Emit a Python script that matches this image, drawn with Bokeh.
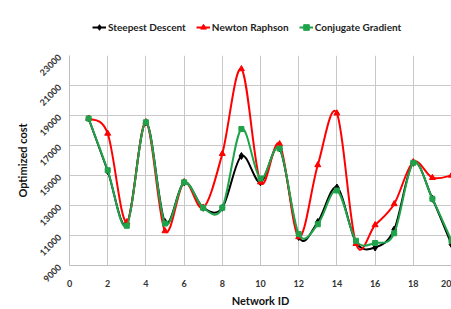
from bokeh.plotting import figure
from bokeh.layouts import column
from bokeh.models import Legend, LegendItem, FixedTicker, Range1d, ColumnDataSource
from bokeh.embed import file_html
from bokeh.resources import INLINE
import math

network_id = list(range(1, 21))
steepest = [18800, 15300, 11750, 18550, 11900, 14550, 12850, 12850, 16300, 14550,
            16800, 10900, 11900, 14200, 10550, 10200, 11400, 15850, 13450, 10400]
newton = [18800, 17800, 11900, 18550, 11300, 14550, 12850, 16450, 22100, 14550,
          17100, 10900, 15700, 19150, 10450, 11700, 13100, 15900, 14850, 15000]
conjugate = [18800, 15350, 11650, 18550, 11800, 14550, 12850, 12850, 18100, 14800,
             16800, 11100, 11750, 14000, 10650, 10500, 11150, 15850, 13450, 10650]

x_ticks = list(range(0, 21, 2))
y_ticks = list(range(9000, 23001, 2000))

FONT = "Lato"

# legend strip on top
lf = figure(width=451, height=44, output_backend="svg", toolbar_location=None,
            x_range=Range1d(0, 1), y_range=Range1d(0, 1),
            min_border_left=0, min_border_right=0, min_border_top=0, min_border_bottom=0)
lf.axis.visible = False
lf.grid.visible = False
lf.outline_line_color = None

p = figure(width=451, height=265, output_backend="svg", toolbar_location=None,
           x_range=Range1d(0, 20), y_range=Range1d(9000, 23000),
           min_border_left=69, min_border_right=0, min_border_top=11, min_border_bottom=42)
p.outline_line_color = None
p.background_fill_color = "white"
p.border_fill_color = "white"

for ax in (p.xaxis[0], p.yaxis[0]):
    ax.axis_line_color = "#bfbfbf"
    ax.major_tick_line_color = None
    ax.minor_tick_line_color = None
    ax.major_label_text_font = FONT
    ax.major_label_text_font_style = "bold"
    ax.major_label_text_font_size = "9px"
    ax.major_label_text_color = "#333333"
    ax.axis_label_text_font = FONT
    ax.axis_label_text_font_style = "bold"
    ax.axis_label_text_font_size = "11px"
    ax.axis_label_text_color = "#111111"

p.xaxis.ticker = FixedTicker(ticks=x_ticks)
p.yaxis.ticker = FixedTicker(ticks=y_ticks)
p.xaxis.axis_label = "Network ID"
p.yaxis.axis_label = "Optimized cost"
p.yaxis.major_label_orientation = math.pi / 4
p.xaxis.major_label_standoff = 8
p.yaxis.major_label_standoff = 4
p.xaxis.axis_label_standoff = 4
p.yaxis.axis_label_standoff = 4

p.xgrid.ticker = FixedTicker(ticks=x_ticks)
p.ygrid.ticker = FixedTicker(ticks=y_ticks)
p.xgrid.grid_line_color = "#c8c8c8"
p.ygrid.grid_line_color = "#c8c8c8"


def smooth(xs, ys, t=1.0 / 6):
    n = len(xs)
    d = dict(x0=[], y0=[], x1=[], y1=[], cx0=[], cy0=[], cx1=[], cy1=[])
    for i in range(n - 1):
        a = max(i - 1, 0)
        b = min(i + 2, n - 1)
        d["x0"].append(xs[i]); d["y0"].append(ys[i])
        d["x1"].append(xs[i + 1]); d["y1"].append(ys[i + 1])
        d["cx0"].append(xs[i] + (xs[i + 1] - xs[a]) * t)
        d["cy0"].append(ys[i] + (ys[i + 1] - ys[a]) * t)
        d["cx1"].append(xs[i + 1] - (xs[b] - xs[i]) * t)
        d["cy1"].append(ys[i + 1] - (ys[b] - ys[i]) * t)
    return ColumnDataSource(d)


series = [
    ("Steepest Descent", steepest, "#000000", "diamond", 7),
    ("Newton Raphson", newton, "#ff0000", "triangle", 6),
    ("Conjugate Gradient", conjugate, "#1fa34a", "square", 5),
]

items = []
for name, ys, color, marker, size in series:
    p.bezier(x0="x0", y0="y0", x1="x1", y1="y1", cx0="cx0", cy0="cy0", cx1="cx1", cy1="cy1",
             source=smooth(network_id, ys), line_color=color, line_width=2)
    p.scatter(network_id, ys, marker=marker, size=size, color=color)
    # legend proxies (hidden) in the legend strip
    ln = lf.line(network_id, ys, line_color=color, line_width=2, visible=False)
    sc = lf.scatter(network_id, ys, marker=marker, size=size, color=color, visible=False)
    items.append(LegendItem(label=name, renderers=[ln, sc]))

legend = Legend(items=items, orientation="horizontal", location=(23, 7))
legend.label_text_font = FONT
legend.label_text_font_style = "bold"
legend.label_text_font_size = "10px"
legend.label_text_color = "#222222"
legend.glyph_width = 14
legend.label_standoff = 2
legend.spacing = 10
legend.padding = 0
legend.margin = 0
legend.border_line_color = None
legend.background_fill_alpha = 0
lf.add_layout(legend)

layout = column(lf, p, spacing=0)
open("out.html", "w").write(file_html(layout, INLINE))
